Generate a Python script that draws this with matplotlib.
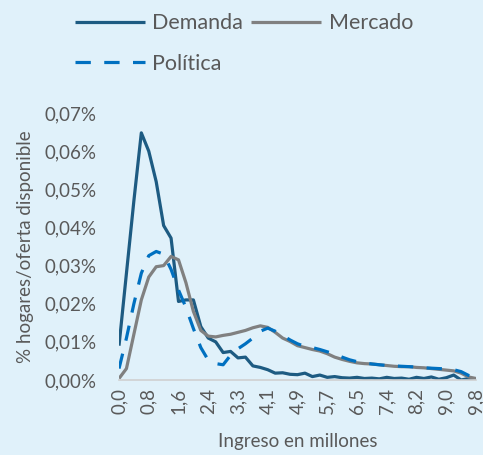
import matplotlib
matplotlib.use("Agg")
import matplotlib.pyplot as plt

# data (% hogares / oferta disponible)
demanda = [0.0090, 0.0280, 0.0470, 0.0648, 0.0600, 0.0520, 0.0405, 0.0372, 0.0206, 0.0210,
           0.0210, 0.0140, 0.0110, 0.0100, 0.0072, 0.0075, 0.0058, 0.0060, 0.0037, 0.0033,
           0.0027, 0.0018, 0.0019, 0.0015, 0.0014, 0.0018, 0.0009, 0.0013, 0.0007, 0.0009,
           0.0006, 0.0005, 0.0007, 0.0004, 0.0005, 0.0003, 0.0007, 0.0004, 0.0005, 0.0002,
           0.0007, 0.0004, 0.0008, 0.0002, 0.0006, 0.0013, 0.0000, 0.0004, 0.0003]
mercado = [0.0004, 0.0030, 0.0120, 0.0210, 0.0270, 0.0297, 0.0300, 0.0324, 0.0315, 0.0255,
           0.0180, 0.0130, 0.0115, 0.0113, 0.0117, 0.0120, 0.0125, 0.0130, 0.0137, 0.0142,
           0.0138, 0.0125, 0.0110, 0.0101, 0.0090, 0.0085, 0.0080, 0.0076, 0.0069, 0.0060,
           0.0054, 0.0049, 0.0045, 0.0043, 0.0042, 0.0040, 0.0038, 0.0036, 0.0035, 0.0035,
           0.0033, 0.0032, 0.0030, 0.0028, 0.0026, 0.0024, 0.0018, 0.0008, 0.0004]
politica = [0.0030, 0.0110, 0.0200, 0.0280, 0.0326, 0.0337, 0.0330, 0.0290, 0.0236, 0.0190,
            0.0135, 0.0085, 0.0052, 0.0043, 0.0040, 0.0065, 0.0082, 0.0095, 0.0110, 0.0128,
            0.0136, 0.0128, 0.0117, 0.0105, 0.0095, 0.0088, 0.0085, 0.0080, 0.0074, 0.0068,
            0.0060, 0.0053, 0.0048, 0.0045, 0.0042, 0.0040, 0.0038, 0.0037, 0.0036, 0.0035,
            0.0034, 0.0032, 0.0031, 0.0030, 0.0029, 0.0027, 0.0022, 0.0012, 0.0008]
tick_labels = ['0,0', '0,8', '1,6', '2,4', '3,3', '4,1', '4,9', '5,7', '6,5', '7,4', '8,2', '9,0', '9,8']
y_ticks = [0, 0.01, 0.02, 0.03, 0.04, 0.05, 0.06, 0.07]

bg = '#e0f1fa'
txt = '#595959'
plt.rcParams['font.family'] = ['Lato', 'DejaVu Sans']

fig = plt.figure(figsize=(4.83, 4.55), dpi=100, facecolor=bg)
ax = fig.add_axes([0.2464, 0.1648, 0.7391, 0.5868], facecolor=bg)

x = list(range(len(demanda)))
l1, = ax.plot(x, demanda, color='#1d5b82', lw=2.3, label='Demanda', solid_capstyle='butt')
l2, = ax.plot(x, mercado, color='#808080', lw=2.3, label='Mercado', solid_capstyle='butt')
l3, = ax.plot(x, politica, color='#0070c0', lw=2.3, dashes=(4.8, 4.2), label='Política')

ax.set_xlim(0, len(demanda) - 1)
ax.set_ylim(0, 0.07)
ax.set_xticks(range(0, len(demanda), 4))
ax.set_xticklabels(tick_labels, rotation=90, fontsize=13.5, color=txt)
ax.set_yticks(y_ticks)
ax.set_yticklabels([f'{v:.2f}%'.replace('.', ',') for v in y_ticks], fontsize=13.5, color=txt)
ax.tick_params(axis='y', length=0, pad=16)
ax.tick_params(axis='x', length=0, pad=6)
for s in ['top', 'right', 'left']:
    ax.spines[s].set_visible(False)
ax.spines['bottom'].set_color('#d0d0d0')
ax.spines['bottom'].set_linewidth(1.2)

ax.set_ylabel('% hogares/oferta disponible', fontsize=13.5, color=txt, labelpad=8)
ax.set_xlabel('Ingreso en millones', fontsize=13.5, color=txt, labelpad=13)

# column-major fill -> row 1: Demanda, Mercado; row 2: Política
leg = fig.legend([l1, l3, l2], ['Demanda', 'Política', 'Mercado'],
                 loc='upper left', bbox_to_anchor=(0.115, 1.013), ncol=2, frameon=False,
                 fontsize=15.5, handlelength=3.25, handletextpad=0.33, columnspacing=0.4,
                 labelspacing=0.95)
for t in leg.get_texts():
    t.set_color(txt)

fig.savefig('out.png', dpi=100, facecolor=bg)
